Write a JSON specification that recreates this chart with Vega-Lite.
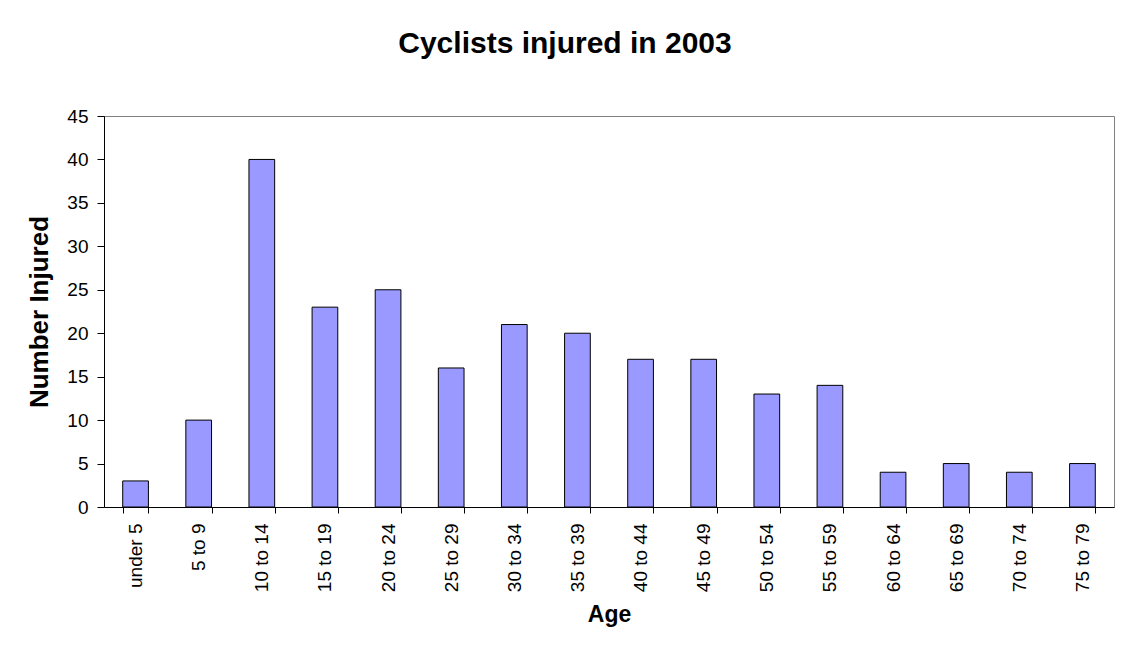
{
  "$schema": "https://vega.github.io/schema/vega-lite/v6.json",
  "width": 1010,
  "height": 391,
  "autosize": {"type": "none"},
  "padding": {"left": 104, "top": 116, "right": 7, "bottom": 141},
  "background": "white",
  "title": {
    "text": "Cyclists injured in 2003",
    "anchor": "middle",
    "frame": "group",
    "dx": -44,
    "offset": 48,
    "font": "Liberation Sans",
    "fontSize": 30,
    "fontWeight": "bold",
    "color": "black"
  },
  "data": {
    "values": [
      {"age": "under 5", "injured": 3},
      {"age": "5 to 9", "injured": 10},
      {"age": "10 to 14", "injured": 40},
      {"age": "15 to 19", "injured": 23},
      {"age": "20 to 24", "injured": 25},
      {"age": "25 to 29", "injured": 16},
      {"age": "30 to 34", "injured": 21},
      {"age": "35 to 39", "injured": 20},
      {"age": "40 to 44", "injured": 17},
      {"age": "45 to 49", "injured": 17},
      {"age": "50 to 54", "injured": 13},
      {"age": "55 to 59", "injured": 14},
      {"age": "60 to 64", "injured": 4},
      {"age": "65 to 69", "injured": 5},
      {"age": "70 to 74", "injured": 4},
      {"age": "75 to 79", "injured": 5}
    ]
  },
  "mark": {"type": "bar", "color": "#9999FF", "stroke": "black", "strokeWidth": 1},
  "encoding": {
    "x": {
      "field": "age",
      "type": "nominal",
      "sort": null,
      "title": "Age",
      "scale": {"paddingInner": 0.593, "paddingOuter": 0.2965},
      "axis": {
        "labelAngle": -90,
        "labelAlign": "right",
        "labelBaseline": "middle",
        "labelFont": "Liberation Sans",
        "labelFontSize": 19,
        "labelColor": "black",
        "labelPadding": 10,
        "tickSize": 6,
        "tickColor": "black",
        "domainColor": "black",
        "tickBand": "extent",
        "titleFont": "Liberation Sans",
        "titleFontSize": 23,
        "titleFontWeight": "bold",
        "titleColor": "black",
        "titlePadding": 12
      }
    },
    "y": {
      "field": "injured",
      "type": "quantitative",
      "title": "Number Injured",
      "scale": {"domain": [0, 45], "nice": false},
      "axis": {
        "values": [0, 5, 10, 15, 20, 25, 30, 35, 40, 45],
        "grid": false,
        "labelFont": "Liberation Sans",
        "labelFontSize": 19,
        "labelColor": "black",
        "labelPadding": 9,
        "tickSize": 7,
        "tickColor": "black",
        "domainColor": "black",
        "titleFont": "Liberation Sans",
        "titleFontSize": 26,
        "titleFontWeight": "bold",
        "titleColor": "black",
        "titlePadding": 14
      }
    }
  },
  "config": {
    "view": {"stroke": "#808080", "strokeWidth": 1}
  }
}
